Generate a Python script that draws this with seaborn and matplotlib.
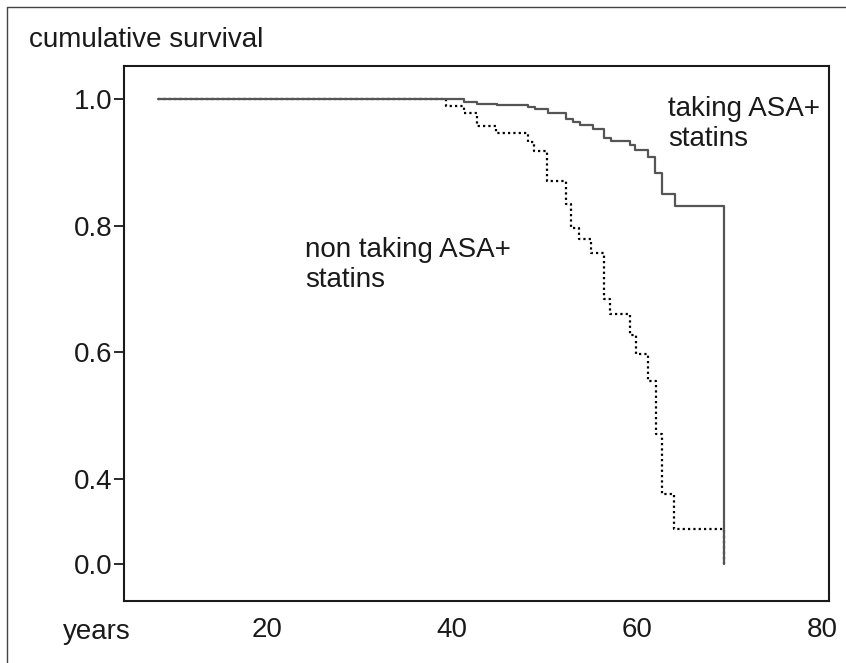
import numpy as np
import pandas as pd
import matplotlib
matplotlib.use("Agg")
import matplotlib.pyplot as plt
from matplotlib.lines import Line2D
import seaborn as sns

# ---- data ----
taking_time = [8.2, 41.3, 42.7, 44.9, 48.2, 49.0, 50.4, 52.3, 53.1, 53.8, 55.2,
               56.4, 57.2, 59.2, 59.8, 61.2, 61.9, 62.7, 64.1, 69.4]
taking_surv = [1.0, 0.995, 0.992, 0.991, 0.987, 0.984, 0.978, 0.969, 0.964, 0.960,
               0.953, 0.938, 0.934, 0.928, 0.919, 0.909, 0.883, 0.851, 0.831, 0.0]

non_time = [8.2, 39.3, 41.3, 42.7, 44.8, 48.2, 48.9, 50.3, 52.3, 52.9, 53.7,
            55.0, 56.4, 57.1, 59.2, 59.9, 61.2, 62.1, 62.7, 64.0, 69.4]
non_surv = [1.0, 0.990, 0.979, 0.958, 0.947, 0.932, 0.918, 0.870, 0.834, 0.796,
            0.779, 0.757, 0.684, 0.660, 0.628, 0.597, 0.554, 0.471, 0.328, 0.162, 0.0]

y_ticks = [1.0, 0.8, 0.6, 0.4, 0.0]
y_tick_labels = ["1.0", "0.8", "0.6", "0.4", "0.0"]
x_ticks = [20, 40, 60, 80]
x_tick_labels = ["20", "40", "60", "80"]

label_taking = "taking ASA+\nstatins"
label_non = "non taking ASA+\nstatins"
y_title = "cumulative survival"
x_title = "years"

df_taking = pd.DataFrame({"years": taking_time, "survival": taking_surv})
df_non = pd.DataFrame({"years": non_time, "survival": non_surv})

# ---- style ----
sns.set_style("white")
plt.rcParams["font.family"] = ["Liberation Sans", "DejaVu Sans"]
plt.rcParams["font.size"] = 20

fig = plt.figure(figsize=(8.46, 6.63), dpi=100)
ax = fig.add_axes([0.1469, 0.0940, 0.8327, 0.8065])

sns.lineplot(data=df_non, x="years", y="survival", estimator=None, ax=ax,
             drawstyle="steps-post", color="black", linewidth=1.6,
             linestyle=(0, (1, 1.4)), zorder=2)
sns.lineplot(data=df_taking, x="years", y="survival", estimator=None, ax=ax,
             drawstyle="steps-post", color="#555555", linewidth=1.6, zorder=3)

# compressed lower part of the y axis (0.0 - 0.4) as in the reference
lo_pos = 0.266
def fwd(v):
    v = np.asarray(v, dtype=float)
    return np.where(v >= 0.4, v, lo_pos + v * (0.4 - lo_pos) / 0.4)
def inv(u):
    u = np.asarray(u, dtype=float)
    return np.where(u >= 0.4, u, (u - lo_pos) * 0.4 / (0.4 - lo_pos))
ax.set_yscale("function", functions=(fwd, inv))

ax.set_xlim(4.57, 80.72)
ax.set_ylim(-0.1747, 1.0526)

ax.set_yticks(y_ticks)
ax.set_yticklabels(y_tick_labels)
ax.set_xticks(x_ticks)
ax.set_xticklabels(x_tick_labels)
ax.yaxis.set_minor_locator(matplotlib.ticker.NullLocator())
ax.xaxis.set_minor_locator(matplotlib.ticker.NullLocator())
ax.tick_params(axis="y", direction="out", length=7.2, width=1.3, pad=1.5,
               labelsize=20, colors="#1a1a1a", left=True)
ax.tick_params(axis="x", length=0, pad=12, labelsize=20, colors="#1a1a1a")
ax.set_xlabel("")
ax.set_ylabel("")

for s in ax.spines.values():
    s.set_visible(True)
    s.set_linewidth(1.5)
    s.set_color("#1a1a1a")

ax.text(63.35, 1.005, label_taking, fontsize=20, color="#1a1a1a",
        ha="left", va="top")
ax.text(24.1, 0.782, label_non, fontsize=20, color="#1a1a1a",
        ha="left", va="top")

fig.text(29 / 846, 1 - 47 / 663, y_title, fontsize=20, color="#1a1a1a",
         ha="left", va="baseline")
fig.text(63 / 846, 1 - 639 / 663, x_title, fontsize=20, color="#1a1a1a",
         ha="left", va="baseline")

# outer frame lines (left and top)
fig.add_artist(Line2D([7 / 846, 7 / 846], [0, 1 - 7 / 663],
                      transform=fig.transFigure, color="#444444", lw=1.0))
fig.add_artist(Line2D([7 / 846, 1], [1 - 7 / 663, 1 - 7 / 663],
                      transform=fig.transFigure, color="#444444", lw=1.0))

fig.savefig("out.png", dpi=100, facecolor="white")
